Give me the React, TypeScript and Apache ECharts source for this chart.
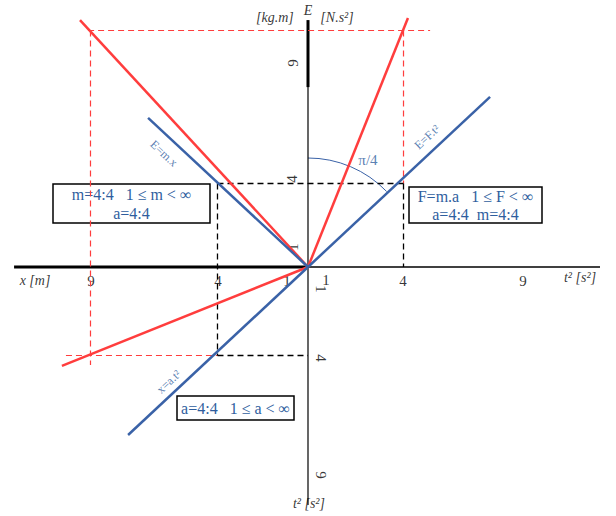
import React, { useEffect, useRef } from "react";
import * as echarts from "echarts";

// ---- data (diagram units) ----
const axisLeft = [[-12.35, 0], [0, 0]];
const axisRight = [[0, 0], [12.27, 0]];
const axisUpThick = [[0, 10.83], [0, 7.89]];
const axisVertical = [[0, 7.89], [0, -10.44]];

const redLines = [
  [[-9.58, 10.83], [0, 0]],
  [[0, 0], [4.2, 10.92]],
  [[-10.34, -4.34], [0, 0]],
];
const blueLines = [
  [[-6.72, 6.54], [0, 0]],
  [[0, 0], [7.65, 7.46]],
  [[-7.56, -7.37], [0, 0]],
];
const redDashed = [
  [[-9.24, 10.373], [5.13, 10.373]],
  [[-9.139, 10.373], [-9.139, -4.3]],
  [[4.013, 10.373], [4.013, 3.662]],
  [[-10.17, -3.882], [-3.803, -3.882]],
];
const blackDashed = [
  [[-3.803, 3.662], [4.013, 3.662]],
  [[-3.803, 3.662], [-3.803, -3.882]],
  [[4.013, 3.662], [4.013, 0]],
  [[-3.803, -3.882], [0, -3.882]],
];

// tick labels: [text, x, y, rotate]
const xTickLabels: [string, number, number, number][] = [
  ["9", -9.12, -0.61, 0],
  ["4", -3.78, -0.61, 0],
  ["1", -0.88, -0.61, 0],
  ["1", 0.76, -0.57, 0],
  ["4", 3.99, -0.61, 0],
  ["9", 9.03, -0.61, 0],
];
const yTickLabels: [string, number, number, number][] = [
  ["9", -0.63, 8.95, 90],
  ["4", -0.67, 3.86, 90],
  ["1", -0.63, 0.88, 90],
  ["1", 0.55, -0.96, -90],
  ["4", 0.55, -3.99, -90],
  ["9", 0.55, -9.12, -90],
];
const axisTitles: [string, number, number, number][] = [
  ["E", 0, 11.23, 0],
  ["[kg.m]", -1.39, 10.96, 0],
  ["[N.s²]", 1.22, 10.96, 0],
  ["x [m]", -11.47, -0.61, 0],
  ["t² [s²]", 11.43, -0.48, 0],
  ["t² [s²]", 0.04, -10.39, 0],
];
const lineLabels: [string, number, number, number][] = [
  ["π/4", 2.52, 4.69, 0],
  ["E=m.x", -6.05, 4.98, -43],
  ["E=F.t²", 5.0, 5.7, 43],
  ["x=a.t²", -5.85, -5.03, 43],
];
const box1Lines = ["m=4:4   1 ≤ m < ∞", "a=4:4"];
const box2Lines = ["F=m.a   1 ≤ F < ∞", "a=4:4  m=4:4"];
const box3Lines = ["a=4:4   1 ≤ a < ∞"];

// ---- styles ----
const SX = 23.8;
const SY = 22.8;
const RED = "#ff3d3d";
const BLUE = "#3a62a7";
const TEXT_BLUE = "#2f5e9e";
const FONT = "Liberation Serif";

function seg(data: number[][], color: string, width: number, type: any = "solid") {
  return {
    type: "line",
    data,
    symbol: "none",
    silent: true,
    lineStyle: { color, width, type, cap: "butt" },
  };
}

function labelSeries(items: [string, number, number, number][], color: string, size: number, italic: boolean) {
  return {
    type: "scatter",
    symbolSize: 1,
    silent: true,
    itemStyle: { color: "rgba(0,0,0,0)" },
    data: items.map(([t, x, y, r]) => ({
      value: [x, y],
      label: {
        show: true,
        position: "inside",
        formatter: t,
        rotate: r,
        color,
        fontSize: size,
        fontFamily: FONT,
        fontStyle: italic ? "italic" : "normal",
        align: "center",
        verticalAlign: "middle",
      },
    })),
  };
}

function box(x: number, y: number, w: number, h: number, lines: string[], lineGap: number, firstY: number) {
  const children: any[] = [
    { type: "rect", shape: { x, y, width: w, height: h }, style: { fill: "none", stroke: "#000", lineWidth: 1.5 } },
  ];
  lines.forEach((t, i) => {
    children.push({
      type: "text",
      x: x + w / 2,
      y: firstY + i * lineGap,
      style: {
        text: t,
        fill: TEXT_BLUE,
        font: `16px "${FONT}"`,
        textAlign: "center",
        textVerticalAlign: "middle",
      },
    });
  });
  return { type: "group", children };
}

export default function App() {
  const ref = useRef<HTMLDivElement>(null);
  useEffect(() => {
    if (!ref.current) return;
    const chart = echarts.init(ref.current, undefined, { renderer: "svg" });
    const series: any[] = [
      seg(axisLeft, "#000", 3),
      seg(axisRight, "#000", 1.5),
      seg(axisUpThick, "#000", 3),
      seg(axisVertical, "#000", 1.2),
      ...redDashed.map((d) => seg(d, RED, 1.2, [6, 4])),
      ...blackDashed.map((d) => seg(d, "#000", 1.3, [6, 4])),
      ...redLines.map((d) => seg(d, RED, 2.5)),
      ...blueLines.map((d) => seg(d, BLUE, 2.5)),
      {
        type: "custom",
        silent: true,
        data: [[0, 0]],
        renderItem: (params: any, api: any) => {
          const c = api.coord([api.value(0), api.value(1)]);
          return {
            type: "arc",
            shape: { cx: c[0], cy: c[1], r: 109, startAngle: -Math.PI / 2, endAngle: -Math.PI / 4 + 0.02, clockwise: true },
            style: { stroke: BLUE, fill: "none", lineWidth: 1 },
          };
        },
      },
      labelSeries(xTickLabels, "#000", 15, false),
      labelSeries(yTickLabels, "#000", 15, false),
      labelSeries(axisTitles, "#000", 14, true),
      labelSeries(lineLabels.slice(0, 1), TEXT_BLUE, 15, false),
      labelSeries(lineLabels.slice(1), TEXT_BLUE, 12, false),
    ];
    chart.setOption({
      animation: false,
      grid: { left: 0, right: 0, top: 0, bottom: 0 },
      xAxis: { type: "value", min: -308 / SX, max: 308 / SX, show: false },
      yAxis: { type: "value", min: -249 / SY, max: 267 / SY, show: false },
      series,
      graphic: [
        box(53, 184, 157, 39, box1Lines, 19, 194),
        box(409, 187, 133, 36, box2Lines, 18, 196),
        box(177, 396, 117, 24, box3Lines, 18, 408),
      ],
    });
    return () => chart.dispose();
  }, []);
  return <div ref={ref} style={{ position: "fixed", left: 0, top: 0, width: 616, height: 516, background: "#fff" }} />;
}
